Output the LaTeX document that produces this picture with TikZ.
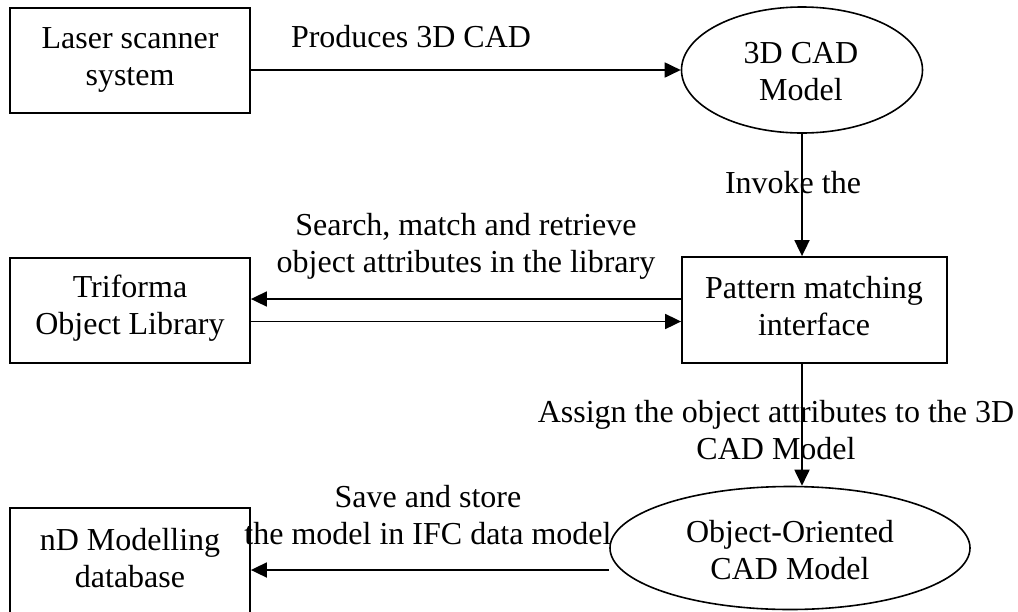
\documentclass[tikz,border=0pt]{standalone}
\usepackage{fontspec}
\setmainfont{Liberation Serif}
\usetikzlibrary{arrows.meta,shapes.geometric}
\newcommand\twolines[2]{\begin{tabular}[t]{@{}c@{}}#1\\#2\end{tabular}}
\begin{document}
\begin{tikzpicture}[x=1pt,y=-1pt,
  box/.style={draw,line width=1.8pt,inner sep=0pt,rectangle},
  oval/.style={draw,line width=1.6pt,inner sep=0pt,ellipse},
  txt/.style={inner sep=0pt,anchor=base,font=\fontsize{32pt}{37pt}\selectfont},
  arr/.style={line width=1.8pt,-{Triangle[length=16pt,width=15pt]}}]
\useasboundingbox (0,0) rectangle (1018,611);
\clip (0,0) rectangle (1018,611);
\fill[white] (0,0) rectangle (1018,611);
% shapes
\node[box,minimum width=240pt,minimum height=105pt] (laser) at (130,60.5) {};
\node[oval,minimum width=241pt,minimum height=126pt] (cad) at (802,70) {};
\node[box,minimum width=265pt,minimum height=106pt] (pattern) at (814.5,310) {};
\node[box,minimum width=240pt,minimum height=105pt] (triforma) at (130,310.5) {};
\node[box,minimum width=240pt,minimum height=124pt] (nd) at (130,570) {};
\node[oval,minimum width=360pt,minimum height=123pt] (oo) at (790,548) {};
% texts in shapes
\node[txt] (laserT) at (130,48) {\twolines{Laser scanner}{system}};
\node[txt] (cadT) at (801,63) {\twolines{3D CAD}{Model}};
\node[txt] (patT) at (814,298) {\twolines{Pattern matching}{interface}};
\node[txt] (triT) at (130,297) {\twolines{Triforma}{Object Library}};
\node[txt] (ndT) at (130,550) {\twolines{nD Modelling}{database}};
\node[txt] (ooT) at (790,542) {\twolines{Object-Oriented}{CAD Model}};
% labels
\node[txt] (l1) at (411,47) {Produces 3D CAD};
\node[txt] (l2) at (793,193) {Invoke the};
\node[txt] (l3) at (466,235) {\twolines{Search, match and retrieve}{object attributes in the library}};
\node[txt] (l4) at (776,422) {\twolines{Assign the object attributes to the 3D}{CAD Model}};
\node[txt] (l5) at (428,507) {\twolines{Save and store}{the model in IFC data model}};
% connectors
\coordinate (pa) at ([yshift=11pt]pattern.west);
\coordinate (tb) at ([yshift=-11pt]triforma.east);
\draw[arr] (laser.east |- cad.west) -- (cad.west);
\draw[arr] (cad.south) -- (cad.south |- pattern.north);
\draw[arr] (pa) -- (pa -| triforma.east);
\draw[arr] (tb) -- (tb -| pattern.west);
\draw[arr] (cad.south |- pattern.south) -- (cad.south |- oo.north);
\draw[arr] (oo.west |- nd.east) -- (nd.east);
\end{tikzpicture}
\end{document}
